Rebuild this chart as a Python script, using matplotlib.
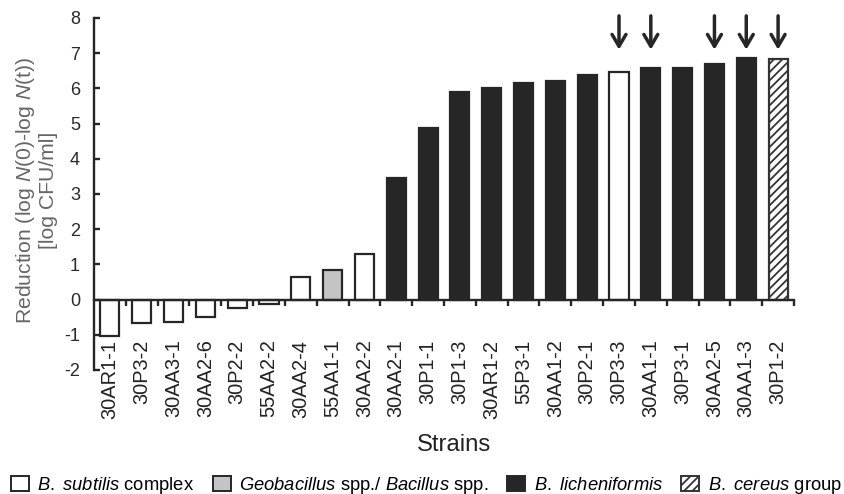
import matplotlib
matplotlib.use("Agg")
from matplotlib import pyplot as plt
from matplotlib.patches import Patch

plt.rcParams["font.family"] = ["Liberation Sans", "DejaVu Sans"]
plt.rcParams["mathtext.fontset"] = "custom"
plt.rcParams["mathtext.rm"] = "Liberation Sans"
plt.rcParams["mathtext.it"] = "Liberation Sans:italic"
plt.rcParams["mathtext.bf"] = "Liberation Sans:bold"
plt.rcParams["axes.unicode_minus"] = False
plt.rcParams["hatch.linewidth"] = 1.3

# data
strains = ["30AR1-1", "30P3-2", "30AA3-1", "30AA2-6", "30P2-2", "55AA2-2",
           "30AA2-4", "55AA1-1", "30AA2-2", "30AA2-1", "30P1-1", "30P1-3",
           "30AR1-2", "55P3-1", "30AA1-2", "30P2-1", "30P3-3", "30AA1-1",
           "30P3-1", "30AA2-5", "30AA1-3", "30P1-2"]
reduction = [-1.03, -0.66, -0.63, -0.49, -0.23, -0.13,
             0.63, 0.85, 1.30, 3.45, 4.87, 5.90,
             6.02, 6.16, 6.20, 6.37, 6.47, 6.59,
             6.59, 6.69, 6.86, 6.84]
group = ["sub", "sub", "sub", "sub", "sub", "sub",
         "sub", "geo", "sub", "lic", "lic", "lic",
         "lic", "lic", "lic", "lic", "sub", "lic",
         "lic", "lic", "lic", "cer"]
marked = ["30P3-3", "30AA1-1", "30AA2-5", "30AA1-3", "30P1-2"]

group_names = ["sub", "geo", "lic", "cer"]
group_labels = [r"$\mathit{B.\ subtilis}$ complex",
                r"$\mathit{Geobacillus}$ spp./ $\mathit{Bacillus}$ spp.",
                r"$\mathit{B.\ licheniformis}$",
                r"$\mathit{B.\ cereus}$ group"]

dark = "#262626"
styles = {
    "sub": dict(facecolor="white", edgecolor=dark, hatch=None),
    "geo": dict(facecolor="#c4c4c4", edgecolor=dark, hatch=None),
    "lic": dict(facecolor=dark, edgecolor=dark, hatch=None),
    "cer": dict(facecolor="white", edgecolor="#333333", hatch="////"),
}

fig = plt.figure(figsize=(8.44, 4.94), dpi=100)
ax = fig.add_axes([94 / 844, 1 - 370 / 494, 700 / 844, 352 / 494])

x = list(range(len(strains)))
for i, (val, g) in enumerate(zip(reduction, group)):
    st = styles[g]
    ax.bar(i, val, width=0.6, facecolor=st["facecolor"], edgecolor=st["edgecolor"],
           hatch=st["hatch"], linewidth=1.6, zorder=2)

# arrows above selected strains
for name in marked:
    i = strains.index(name)
    ax.annotate("", xy=(i, 7.1), xytext=(i, 8.06),
                arrowprops=dict(arrowstyle="->,head_length=0.85,head_width=0.5",
                                lw=2.5, color=dark, mutation_scale=10,
                                shrinkA=0, shrinkB=0),
                annotation_clip=False)

ax.set_xlim(-0.5, len(strains) - 0.5)
ax.set_ylim(-2, 8)
ax.set_yticks(range(-2, 9))

for s in ["top", "right"]:
    ax.spines[s].set_visible(False)
ax.spines["bottom"].set_position(("data", 0))
ax.spines["bottom"].set_zorder(3)
for s in ["left", "bottom"]:
    ax.spines[s].set_linewidth(1.7)
    ax.spines[s].set_color(dark)

ax.set_xticks(x)
ax.set_xticklabels(strains, rotation=90, fontsize=14.4, color="#222222")
ax.set_xticks([i + 0.5 for i in x], minor=True)
ax.tick_params(axis="x", which="major", length=0, pad=28.8)
ax.tick_params(axis="x", which="minor", length=4, width=1.7, direction="out", color=dark)
ax.tick_params(axis="y", which="major", length=4, width=1.7, direction="in",
               color=dark, pad=10, labelsize=13, labelcolor="#2a2a2a")

ax.set_ylabel("Reduction (log $\\mathit{N}$(0)-log $\\mathit{N}$(t))\n[log CFU/ml]",
              fontsize=15.2, color="#666666", linespacing=1.15,
              multialignment="center")
ax.yaxis.set_label_coords(-0.051, 0.51)

ax.set_xlabel("Strains", fontsize=17.2, color="#222222", va="baseline")
ax.xaxis.set_label_coords(0.515, -0.230)

handles = [Patch(**styles[g], linewidth=1.4) for g in group_names]
fig.legend(handles, group_labels, loc="center", bbox_to_anchor=(0.505, 0.018),
           ncol=4, frameon=False, fontsize=13.2, handlelength=1.0, handleheight=0.9,
           handletextpad=0.45, columnspacing=1.0, borderpad=0, borderaxespad=0)

plt.savefig("out.png", dpi=100)
print("Saved out.png")
